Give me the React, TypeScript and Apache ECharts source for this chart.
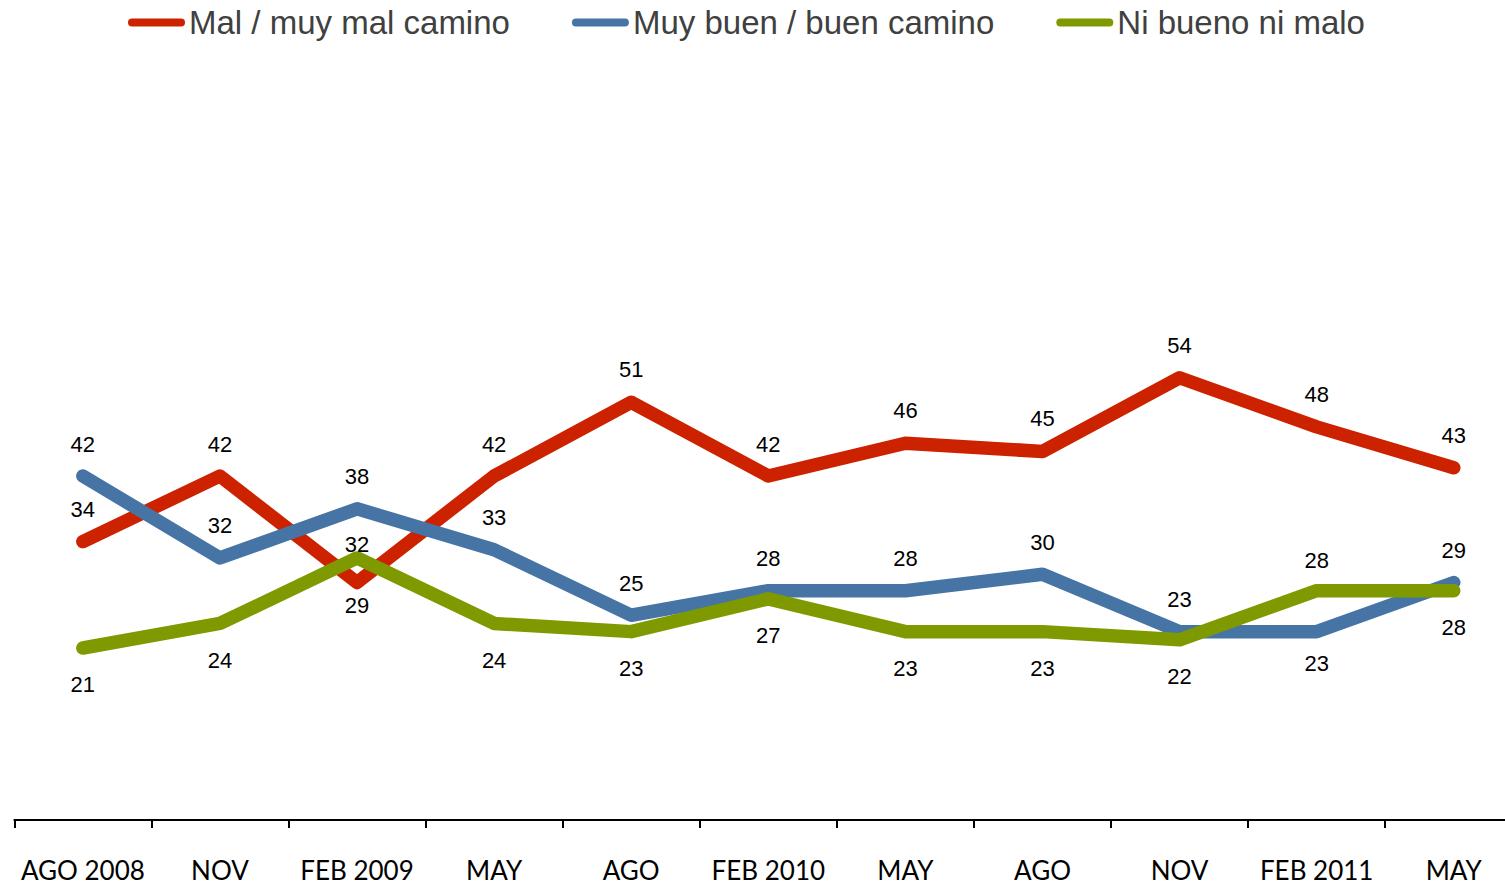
import React, { useEffect, useRef } from "react";
import * as echarts from "echarts";

const categories = ["AGO 2008", "NOV", "FEB 2009", "MAY", "AGO", "FEB 2010", "MAY", "AGO", "NOV", "FEB 2011", "MAY"];
const seriesNames = ["Mal / muy mal camino", "Muy buen / buen camino", "Ni bueno ni malo"];
const malValues = [34, 42, 29, 42, 51, 42, 46, 45, 54, 48, 43];
const buenValues = [42, 32, 38, 33, 25, 28, 28, 30, 23, 23, 29];
const niValues = [21, 24, 32, 24, 23, 27, 23, 23, 22, 28, 28];

// label vertical offsets (px) relative to each point
const malLabelDy = [-32, -32, 23, -32, -33, -32, -33, -33, -32, -32, -32];
const buenLabelDy = [-32, -32, -32, -32, -32, -32, -32, -32, -32, 32, -32];
const niLabelDy = [36, 37, -13, 37, 37, 37, 37, 37, 37, -30, 37];

const colors = ["#CC2200", "#4675A5", "#7F9A00"];

function buildData(values: number[], dys: number[]) {
  return values.map((v, i) => ({
    value: v,
    label: { offset: [0, dys[i]] },
  }));
}

export default function App() {
  const ref = useRef<HTMLDivElement>(null);
  useEffect(() => {
    if (!ref.current) return;
    const chart = echarts.init(ref.current, undefined, { renderer: "svg" });
    const mk = (name: string, values: number[], dys: number[], color: string) => ({
      name,
      type: "line",
      data: buildData(values, dys),
      symbol: "circle",
      symbolSize: 1,
      showSymbol: true,
      itemStyle: { color, opacity: 0 },
      lineStyle: { color, width: 13.5, cap: "round", join: "round" },
      label: {
        show: true,
        position: "inside",
        color: "#000",
        fontFamily: "Liberation Sans",
        fontSize: 22,
        opacity: 1,
      },
      emphasis: { disabled: true },
    });
    chart.setOption({
      animation: false,
      legend: {
        top: 6,
        left: 128,
        padding: 0,
        itemWidth: 57,
        itemHeight: 8,
        itemGap: 62,
        icon: "path://M4,0 H53 A4,4 0 0 1 53,8 H4 A4,4 0 0 1 4,0 Z",
        textStyle: { fontFamily: "Liberation Sans", fontSize: 33, color: "#404040", padding: [0, 0, 0, -1] },
        data: seriesNames.map((n, i) => ({ name: n, itemStyle: { color: colors[i], opacity: 1 } })),
      },
      grid: { left: 14.3, top: 1, width: 1508, height: 819, containLabel: false },
      xAxis: {
        type: "category",
        data: categories,
        boundaryGap: true,
        offset: 3,
        axisLine: { show: true, lineStyle: { color: "#000", width: 2 } },
        axisTick: { show: true, length: 8, lineStyle: { color: "#000", width: 2 } },
        axisLabel: { color: "#000", fontFamily: "Lato", fontSize: 26, margin: 34, interval: 0 },
      },
      yAxis: {
        type: "value",
        min: 0,
        max: 100,
        show: false,
        splitLine: { show: false },
      },
      series: [
        mk(seriesNames[0], malValues, malLabelDy, colors[0]),
        mk(seriesNames[1], buenValues, buenLabelDy, colors[1]),
        mk(seriesNames[2], niValues, niLabelDy, colors[2]),
      ],
    });
    return () => chart.dispose();
  }, []);
  return (
    <div style={{ position: "fixed", left: 0, top: 0, width: 1505, height: 885, overflow: "hidden", background: "#fff" }}>
      <div ref={ref} style={{ width: 1540, height: 885 }} />
    </div>
  );
}
